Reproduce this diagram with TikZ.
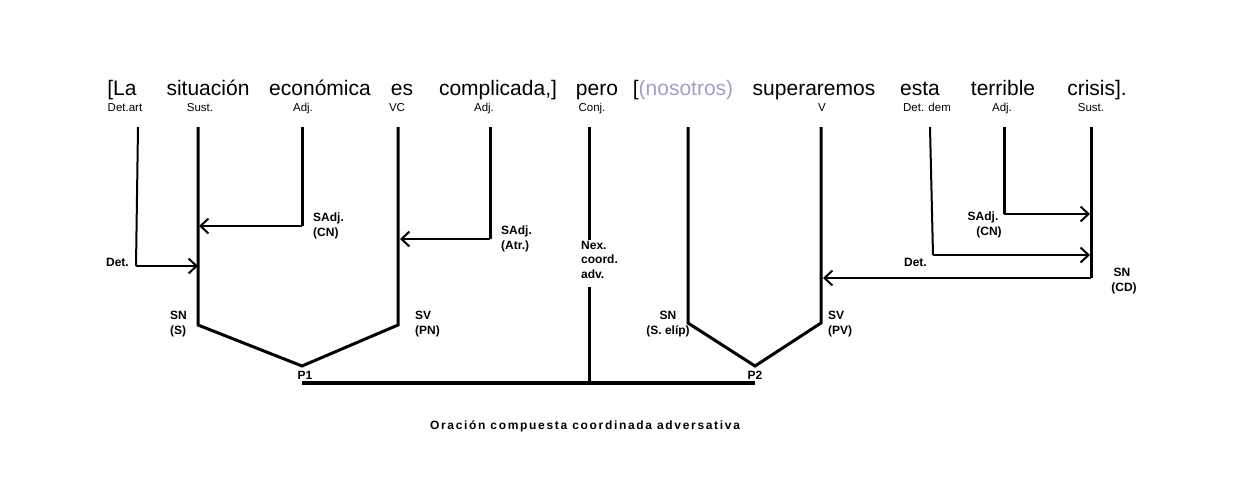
\documentclass[tikz,border=0pt]{standalone}
\usepackage{fontspec}
\setmainfont{Liberation Sans}
\usetikzlibrary{arrows.meta}
\definecolor{elipgray}{HTML}{A79BC8}

\begin{document}
\begin{tikzpicture}[x=1pt, y=-1pt,
    word/.style={anchor=base, inner sep=0pt, font=\fontsize{21}{24}\selectfont},
    cat/.style={anchor=base, inner sep=0pt, font=\fontsize{11.5}{13}\selectfont},
    fun/.style={inner sep=0pt, align=left, font=\fontsize{12}{15}\selectfont\bfseries},
    trunk/.style={draw=black, line width=3pt},
    detline/.style={draw=black, line width=2pt},
    arrow/.style={-{Straight Barb[length=8pt, width=15pt, line width=2pt]}, draw=black, line width=2.2pt},
    bar/.style={draw=black, line width=4pt}
  ]
    \useasboundingbox (0,0) rectangle (1252,488);

    % palabras
    \node[word] (la)    at (122,  95) {[La};
    \node[word] (sit)   at (208,  95) {situación};
    \node[word] (eco)   at (320,  95) {económica};
    \node[word] (es)    at (402,  95) {es};
    \node[word] (comp)  at (498,  95) {complicada,]};
    \node[word] (pero)  at (597,  95) {pero};
    \node[word] (nos)   at (683,  95) {[{\color{elipgray}(nosotros)}};
    \node[word] (sup)   at (814,  95) {superaremos};
    \node[word] (esta)  at (920,  95) {esta};
    \node[word] (ter)   at (1003, 95) {terrible};
    \node[word] (cri)   at (1097, 95) {crisis].};

    % categorias
    \node[cat] (pla)  at (125,  111) {Det.art};
    \node[cat] (psit) at (200,  111) {Sust.};
    \node[cat] (peco) at (303,  111) {Adj.};
    \node[cat] (pes)  at (397,  111) {VC};
    \node[cat] (pcom) at (484,  111) {Adj.};
    \node[cat] (ppe)  at (592,  111) {Conj.};
    \node[cat] (psup) at (822,  111) {V};
    \node[cat] (pest) at (927,  111) {Det. dem};
    \node[cat] (pter) at (1002, 111) {Adj.};
    \node[cat] (pcri) at (1091, 111) {Sust.};

    % puntos del arbol
    \coordinate (t1)  at (138,  127);  \coordinate (d1)  at (136,  266);
    \coordinate (t2)  at (198,  127);  \coordinate (sn1) at (198,  325);
    \coordinate (t3)  at (302,  127);  \coordinate (a1)  at (302,  226);
    \coordinate (t4)  at (398,  127);  \coordinate (sv1) at (398,  325);
    \coordinate (t5)  at (490,  127);  \coordinate (a2)  at (490,  239);
    \coordinate (t6)  at (589,  127);  \coordinate (n1)  at (589,  240);
    \coordinate (n2)  at (589,  287);  \coordinate (n3)  at (589,  383);
    \coordinate (t7)  at (688,  127);  \coordinate (sn2) at (688,  323);
    \coordinate (t8)  at (821,  127);  \coordinate (sv2) at (821,  323);
    \coordinate (t9)  at (930,  127);  \coordinate (d2)  at (933,  255);
    \coordinate (t10) at (1004, 127);  \coordinate (a3)  at (1004, 214);
    \coordinate (t11) at (1091, 127);  \coordinate (cd)  at (1091, 278);
    \coordinate (p1)  at (302,  366);  \coordinate (p2)  at (755,  366);
    \coordinate (b1)  at (302,  383);  \coordinate (b2)  at (755,  383);

    % primera proposicion
    \draw[detline] (t1) -- (d1);
    \draw[arrow] (d1) -- (t2 |- d1);
    \draw[trunk] (t2) -- (sn1) -- (p1) -- (sv1) -- (t4);
    \draw[trunk] (t3) -- (a1);
    \draw[arrow] (a1) -- ([xshift=1pt]t2 |- a1);
    \draw[trunk] (t5) -- (a2);
    \draw[arrow] (a2) -- ([xshift=2pt]t4 |- a2);

    % nexo
    \draw[trunk] (t6) -- (n1);
    \draw[trunk] (n2) -- (n3);
    \draw[bar]   (b1) -- (b2);

    % segunda proposicion
    \draw[trunk] (t7) -- (sn2) -- (p2) -- (sv2) -- (t8);
    \draw[detline] (t9) -- (d2);
    \draw[arrow] (d2) -- ([xshift=-1pt]t11 |- d2);
    \draw[trunk] (t10) -- (a3);
    \draw[arrow] (a3) -- ([xshift=-1pt]t11 |- a3);
    \draw[trunk] (t11) -- (cd);
    \draw[arrow] (cd) -- ([xshift=2pt]t8 |- cd);

    % funciones
    \node[fun, anchor=base east] (fdet1) at (129, 266) {Det.};
    \node[fun, anchor=north west] (fsadj1) at (313, 213) {SAdj.\\(CN)};
    \node[fun, anchor=north west] (fsadj2) at (501, 226) {SAdj.\\(Atr.)};
    \node[fun, anchor=north west, font=\fontsize{12}{14.5}\selectfont\bfseries] (fnex) at (581, 241) {Nex.\\coord.\\adv.};
    \node[fun, anchor=north west] (fsn1) at (170, 311) {SN\\(S)};
    \node[fun, anchor=north west] (fsv1) at (415, 311) {SV\\(PN)};
    \node[fun, anchor=north, align=center] (fsn2) at (668, 311) {SN\\(S. elíp)};
    \node[fun, anchor=north west] (fsv2) at (828, 311) {SV\\(PV)};
    \node[fun, anchor=base east] (fdet2) at (927, 266) {Det.};
    \node[fun, anchor=north, align=center] (fsadj3) at (983, 212) {SAdj.\\\hspace*{12pt}(CN)};
    \node[fun, anchor=north, align=center] (fcd) at (1122, 268) {SN\\\hspace*{4pt}(CD)};
    \node[fun, anchor=base] (fp1) at (305, 379) {P1};
    \node[fun, anchor=base] (fp2) at (755, 379) {P2};

    \node[fun, anchor=base, font=\fontsize{12}{15}\selectfont\bfseries\addfontfeature{LetterSpace=14}] (titulo) at (585, 429) {Oración compuesta coordinada adversativa};
\end{tikzpicture}
\end{document}
